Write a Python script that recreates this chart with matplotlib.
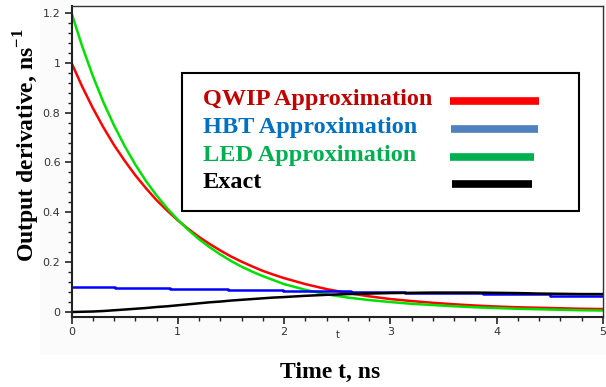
import numpy as np
import matplotlib
matplotlib.use("Agg")
from matplotlib import pyplot as plt
from matplotlib.lines import Line2D
from matplotlib.patches import Rectangle
from matplotlib.ticker import MultipleLocator

plt.rcParams['mathtext.fontset'] = 'custom'
plt.rcParams['mathtext.rm'] = 'Liberation Serif'
plt.rcParams['mathtext.bf'] = 'Liberation Serif:bold'

# time grid, ns (finer where the curves bend most)
t = [0.0, 0.1, 0.2, 0.3, 0.4, 0.5, 0.6, 0.7, 0.8, 0.9, 1.0,
     1.1, 1.2, 1.3, 1.4, 1.5, 1.6, 1.7, 1.8, 1.9, 2.0,
     2.2, 2.4, 2.6, 2.8, 3.0, 3.2, 3.4, 3.6, 3.8, 4.0, 4.2, 4.4, 4.6, 4.8, 5.0]

qwip = [1.000, 0.905, 0.819, 0.741, 0.670, 0.607, 0.549, 0.497, 0.449, 0.407, 0.368,
        0.333, 0.301, 0.273, 0.247, 0.223, 0.202, 0.183, 0.165, 0.150, 0.136,
        0.112, 0.092, 0.076, 0.063, 0.052, 0.044, 0.037, 0.031, 0.026, 0.022,
        0.019, 0.017, 0.015, 0.013, 0.012]

led = [1.200, 1.067, 0.948, 0.842, 0.749, 0.666, 0.592, 0.526, 0.468, 0.416, 0.370,
       0.329, 0.292, 0.260, 0.231, 0.205, 0.182, 0.162, 0.144, 0.128, 0.112,
       0.089, 0.071, 0.058, 0.048, 0.040, 0.033, 0.028, 0.023, 0.019, 0.016,
       0.013, 0.011, 0.009, 0.007, 0.006]

exact = [0.000, 0.001, 0.002, 0.004, 0.007, 0.010, 0.013, 0.016, 0.020, 0.023, 0.027,
         0.031, 0.035, 0.039, 0.042, 0.046, 0.049, 0.052, 0.055, 0.058, 0.060,
         0.065, 0.069, 0.072, 0.074, 0.076, 0.077, 0.078, 0.078, 0.078, 0.077,
         0.076, 0.074, 0.073, 0.072, 0.072]

# HBT approximation is drawn as a staircase
hbt_t = [0.0, 0.41, 0.93, 1.47, 1.99, 2.63, 3.14, 3.87, 4.5, 5.0]
hbt = [0.100, 0.097, 0.093, 0.089, 0.085, 0.081, 0.077, 0.071, 0.065, 0.065]

legend_labels = ['QWIP Approximation', 'HBT Approximation', 'LED Approximation', 'Exact']
legend_text_colors = ['#C00000', '#0070C0', '#00B050', '#000000']
legend_line_colors = ['#FF0000', '#4F81BD', '#00B050', '#000000']

W, H = 606, 387
fig = plt.figure(figsize=(W / 100, H / 100), dpi=100)

# faint plot-region background
fig.patches.append(Rectangle((40 / W, 1 - 355 / H), (W - 40) / W, 355 / H,
                             transform=fig.transFigure, facecolor='#fbfbfb',
                             edgecolor='none', zorder=-5))

ax = fig.add_axes([71.5 / W, 1 - 317 / H, (603 - 71.5) / W, (317 - 6) / H])
ax.set_zorder(1)
ax.set_facecolor('white')

ax.plot(t, qwip, color='#FF0000', lw=1.8)
ax.plot(t, led, color='#00E000', lw=1.8)
ax.plot(hbt_t, hbt, color='#0000FF', lw=1.8, drawstyle='steps-post')
ax.plot(t, exact, color='black', lw=1.8)

ax.set_xlim(0, 5)
ax.set_ylim(-0.02, 1.228)
ax.xaxis.set_major_locator(MultipleLocator(1))
ax.xaxis.set_minor_locator(MultipleLocator(0.2))
ax.yaxis.set_minor_locator(MultipleLocator(0.04))
ax.set_yticks([0, 0.2, 0.4, 0.6, 0.8, 1.0, 1.2])
ax.set_yticklabels(['0', '0.2', '0.4', '0.6', '0.8', '1', '1.2'])

ax.tick_params(which='major', length=5, width=1.2, color='#222222',
               labelsize=8, labelcolor='#333333', pad=3)
ax.tick_params(which='minor', length=3, width=1.0, color='#222222')
ax.tick_params(axis='x', pad=2)

for side in ['left', 'bottom']:
    ax.spines[side].set_linewidth(1.5)
    ax.spines[side].set_color('#222222')
for side in ['top', 'right']:
    ax.spines[side].set_linewidth(1.0)
    ax.spines[side].set_color('#333333')

# small axis name under the ticks
fig.text(338 / W, 1 - 335 / H, 't', ha='center', va='center',
         fontsize=7, color='#333333')

serif = 'Liberation Serif'
fig.text(330 / W, 1 - 372 / H, 'Time t, ns', ha='center', va='center',
         fontsize=17, fontweight='bold', family=serif)
fig.text(27 / W, 1 - 145 / H, r'Output derivative, ns$^{\mathbf{-1}}$',
         ha='center', va='center', rotation=90,
         fontsize=17, fontweight='bold', family=serif)

# legend box, drawn above the axes
fig.patches.append(Rectangle((182 / W, 1 - 211 / H), (579 - 182) / W, (211 - 73) / H,
                             transform=fig.transFigure, facecolor='white',
                             edgecolor='black', lw=1.5, zorder=5))

rows_y = [100, 127, 155, 182]
line_x = [(450, 539), (451, 538), (450, 534), (452, 532)]
line_y = [101, 129, 157, 184]
for lab, tc, lc, ty, (x0, x1), ly in zip(legend_labels, legend_text_colors,
                                         legend_line_colors, rows_y, line_x, line_y):
    fig.text(203 / W, 1 - ty / H, lab, ha='left', va='center', color=tc,
             fontsize=17.5, fontweight='bold', family=serif, zorder=6)
    fig.lines.append(Line2D([x0 / W, x1 / W], [1 - ly / H, 1 - ly / H],
                            transform=fig.transFigure, color=lc, lw=5.5,
                            solid_capstyle='butt', zorder=6))

fig.savefig('out.png', dpi=100)
